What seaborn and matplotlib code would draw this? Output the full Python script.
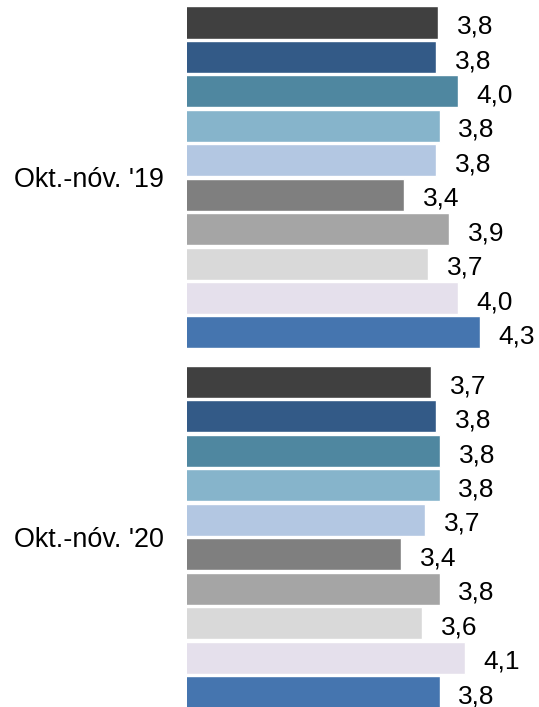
import matplotlib
matplotlib.use("Agg")
import matplotlib.pyplot as plt
import pandas as pd
import seaborn as sns

PERIODS = ["Okt.-nóv. '19", "Okt.-nóv. '20"]
SERIES = ["1", "2", "3", "4", "5", "6", "7", "8", "9", "10"]
VALUES_19 = [3.81, 3.79, 4.04, 3.83, 3.79, 3.42, 3.94, 3.70, 4.04, 4.30]
VALUES_20 = [3.73, 3.79, 3.84, 3.83, 3.66, 3.38, 3.83, 3.63, 4.12, 3.83]
COLORS = ["#404040", "#335A87", "#4F87A0", "#86B4CB", "#B3C7E2",
          "#7F7F7F", "#A5A5A5", "#D9D9D9", "#E5E0EC", "#4575AF"]

sns.set_theme(style="white")
plt.rcParams["font.family"] = ["Liberation Sans", "DejaVu Sans"]

rows = []
for period, vals in zip(PERIODS, [VALUES_19, VALUES_20]):
    for s, v in zip(SERIES, vals):
        rows.append({"period": period, "series": s, "value": v})
df = pd.DataFrame(rows)

fig = plt.figure(figsize=(5.39, 7.07), dpi=100)
ax = fig.add_axes([187 / 539, 0, 1 - 187 / 539, 1])

sns.barplot(data=df, y="period", x="value", hue="series", order=PERIODS,
            hue_order=SERIES, palette=COLORS, orient="h", width=0.958,
            gap=0.07, saturation=1, legend=False, ax=ax)

ax.set_xlim(0.9, 0.9 + 352 / 86.2)
ax.set_ylim(1.4729, -0.4937)

# value labels, a bit right of and below the end of each bar
for container in ax.containers:
    for bar in container:
        w = bar.get_width()
        yc = bar.get_y() + bar.get_height() / 2
        ax.annotate(f"{w:.1f}".replace(".", ","), (w, yc),
                    xytext=(13.5, -3), textcoords="offset points",
                    ha="left", va="center", fontsize=18.9, color="black",
                    annotation_clip=False)

ax.set_xlabel("")
ax.set_ylabel("")
ax.set_xticks([])
ax.tick_params(axis="y", length=0, pad=17, labelsize=19.4, labelcolor="black")
for spine in ax.spines.values():
    spine.set_visible(False)

fig.savefig("out.png", dpi=100)
